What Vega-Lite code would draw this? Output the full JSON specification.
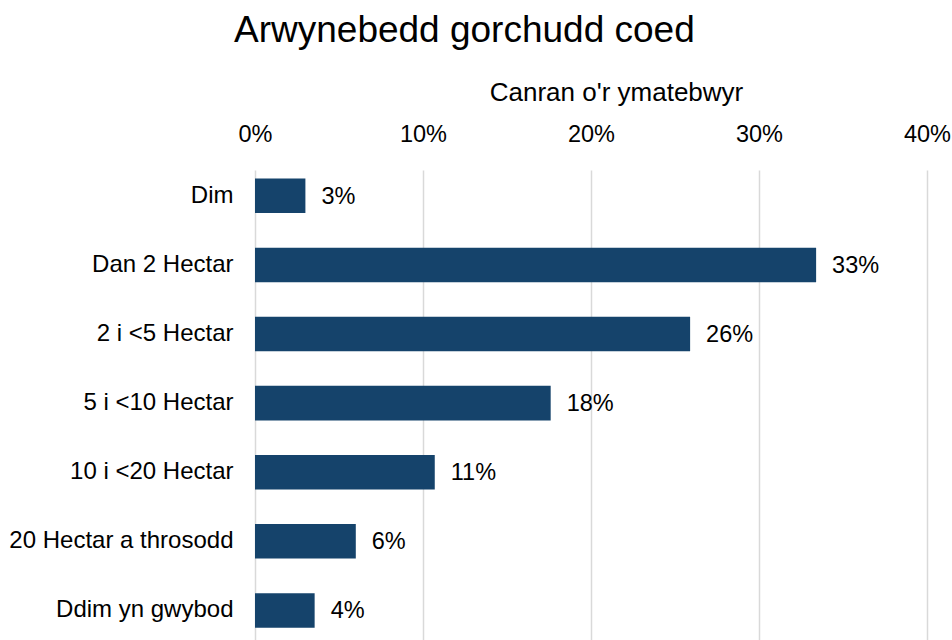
{
  "$schema": "https://vega.github.io/schema/vega-lite/v6.json",
  "autosize": "none",
  "padding": {"left": 255, "top": 170, "right": 25, "bottom": 0},
  "width": 672,
  "height": 475,
  "background": "white",
  "title": {
    "text": "Arwynebedd gorchudd coed",
    "anchor": "start",
    "frame": "group",
    "dx": -21,
    "dy": -25,
    "font": "Liberation Sans",
    "fontSize": 37,
    "fontWeight": "normal",
    "color": "#000000"
  },
  "data": {
    "values": [
      {"categori": "Dim", "canran": 0.030},
      {"categori": "Dan 2 Hectar", "canran": 0.334},
      {"categori": "2  i <5 Hectar", "canran": 0.259},
      {"categori": "5 i <10 Hectar", "canran": 0.176},
      {"categori": "10 i <20 Hectar", "canran": 0.107},
      {"categori": "20 Hectar a throsodd", "canran": 0.060},
      {"categori": "Ddim yn gwybod", "canran": 0.0355}
    ]
  },
  "encoding": {
    "y": {
      "field": "categori",
      "type": "nominal",
      "sort": null,
      "scale": {"paddingInner": 0.5, "paddingOuter": 0.187, "align": 0.33},
      "axis": {
        "title": null,
        "domain": false,
        "ticks": false,
        "tickSize": 0,
        "labelPadding": 22,
        "labelFont": "Liberation Sans",
        "labelFontSize": 24,
        "labelColor": "#000000",
        "labelLimit": 400
      }
    },
    "x": {
      "field": "canran",
      "type": "quantitative",
      "scale": {"domain": [0, 0.4], "nice": false},
      "axis": {
        "orient": "top",
        "values": [0, 0.1, 0.2, 0.3, 0.4],
        "format": ".0%",
        "title": "Canran o'r ymatebwyr",
        "titleFont": "Liberation Sans",
        "titleFontSize": 26,
        "titleFontWeight": "normal",
        "titleColor": "#000000",
        "titleX": 361,
        "titleY": -70,
        "titleAlign": "center",
        "titleBaseline": "alphabetic",
        "titleAnchor": null,
        "domain": false,
        "ticks": false,
        "tickSize": 0,
        "labelPadding": 29,
        "labelBaseline": "alphabetic",
        "labelFont": "Liberation Sans",
        "labelFontSize": 23.5,
        "labelColor": "#000000",
        "labelFlush": false,
        "labelOverlap": false,
        "grid": true,
        "gridColor": "#d9d9d9",
        "gridWidth": 1.5
      }
    }
  },
  "layer": [
    {
      "mark": {"type": "bar", "color": "#15436b"}
    },
    {
      "mark": {
        "type": "text",
        "align": "left",
        "baseline": "middle",
        "dx": 16,
        "dy": 1,
        "font": "Liberation Sans",
        "fontSize": 23.5,
        "color": "#000000"
      },
      "encoding": {
        "text": {"field": "canran", "type": "quantitative", "format": ".0%"}
      }
    }
  ],
  "config": {
    "view": {"stroke": null}
  }
}
